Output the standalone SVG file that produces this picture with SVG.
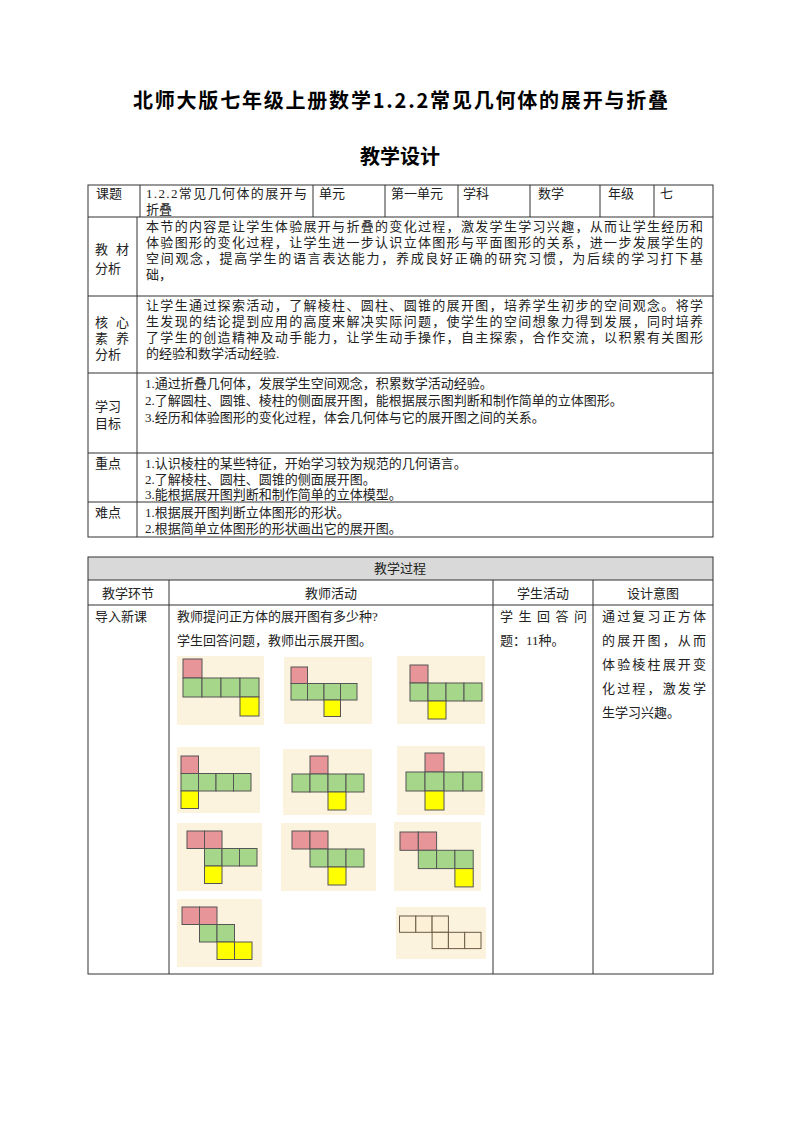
<svg xmlns="http://www.w3.org/2000/svg" width="800" height="1132" viewBox="0 0 800 1132">
<style>
text{font-family:"Liberation Serif","Noto Sans CJK SC",serif;font-size:13px;fill:#222}
.t{font-family:"Noto Sans CJK SC",sans-serif;font-size:20px;font-weight:bold;fill:#000}
.ln{stroke:#333;stroke-width:1;fill:none}
.bg{fill:#fcf3df}
.p{fill:#e8959a;stroke:#555;stroke-width:1}
.g{fill:#a6d68a;stroke:#555;stroke-width:1}
.y{fill:#ffff00;stroke:#555;stroke-width:1}
.o{fill:#fcf0d6;stroke:#6b5a45;stroke-width:1}
</style>
<rect width="800" height="1132" fill="#fff"/>
<g id="title">
<text class="t" x="133" y="108" textLength="535">北师大版七年级上册数学1.2.2常见几何体的展开与折叠</text>
<text class="t" x="400" y="164" text-anchor="middle">教学设计</text>
</g>
<g id="table1">
<rect class="ln" x="88" y="185" width="625" height="352"/>
<path class="ln" d="M88 217H713M88 296H713M88 373H713M88 453H713M88 502H713M140 185V217M313 185V217M385 185V217M458 185V217M530 185V217M600 185V217M654 185V217M137 217V537"/>
<text x="96" y="198">课题</text>
<text x="146" y="198" textLength="161">1.2.2常见几何体的展开与</text>
<text x="146" y="214">折叠</text>
<text x="319" y="198">单元</text>
<text x="391" y="198">第一单元</text>
<text x="463" y="198">学科</text>
<text x="538" y="198">数学</text>
<text x="608" y="198">年级</text>
<text x="660" y="198">七</text>
<text x="95" y="254" textLength="34">教 材</text>
<text x="95" y="273">分析</text>
<text x="146" y="231" textLength="557">本节的内容是让学生体验展开与折叠的变化过程，激发学生学习兴趣，从而让学生经历和</text>
<text x="146" y="247" textLength="557">体验图形的变化过程，让学生进一步认识立体图形与平面图形的关系，进一步发展学生的</text>
<text x="146" y="263" textLength="557">空间观念，提高学生的语言表达能力，养成良好正确的研究习惯，为后续的学习打下基</text>
<text x="146" y="279">础，</text>
<text x="95" y="327" textLength="34">核 心</text>
<text x="95" y="343" textLength="34">素 养</text>
<text x="95" y="359">分析</text>
<text x="146" y="310" textLength="557">让学生通过探索活动，了解棱柱、圆柱、圆锥的展开图，培养学生初步的空间观念。将学</text>
<text x="146" y="326" textLength="557">生发现的结论提到应用的高度来解决实际问题，使学生的空间想象力得到发展，同时培养</text>
<text x="146" y="342" textLength="557">了学生的创造精神及动手能力，让学生动手操作，自主探索，合作交流，以积累有关图形</text>
<text x="146" y="358">的经验和数学活动经验.</text>
<text x="95" y="411">学习</text>
<text x="95" y="428">目标</text>
<text x="145" y="388">1.通过折叠几何体，发展学生空间观念，积累数学活动经验。</text>
<text x="145" y="405">2.了解圆柱、圆锥、棱柱的侧面展开图，能根据展示图判断和制作简单的立体图形。</text>
<text x="145" y="422">3.经历和体验图形的变化过程，体会几何体与它的展开图之间的关系。</text>
<text x="95" y="468">重点</text>
<text x="145" y="468">1.认识棱柱的某些特征，开始学习较为规范的几何语言。</text>
<text x="145" y="484">2.了解棱柱、圆柱、圆锥的侧面展开图。</text>
<text x="145" y="499">3.能根据展开图判断和制作简单的立体模型。</text>
<text x="95" y="517">难点</text>
<text x="145" y="517">1.根据展开图判断立体图形的形状。</text>
<text x="145" y="533">2.根据简单立体图形的形状画出它的展开图。</text>
</g>
<g id="table2">
<rect x="88" y="557" width="625" height="23" fill="#d9d9d9"/>
<rect class="ln" x="88" y="557" width="625" height="417"/>
<path class="ln" d="M88 580H713M88 605H713M169 580V974M493 580V974M593 580V974"/>
<text x="400" y="573" text-anchor="middle">教学过程</text>
<text x="128" y="598" text-anchor="middle">教学环节</text>
<text x="331" y="598" text-anchor="middle">教师活动</text>
<text x="543" y="598" text-anchor="middle">学生活动</text>
<text x="653" y="598" text-anchor="middle">设计意图</text>
<text x="95" y="621">导入新课</text>
<text x="177" y="621">教师提问正方体的展开图有多少种?</text>
<text x="177" y="645">学生回答问题，教师出示展开图。</text>
<text x="500" y="621" textLength="87">学生回答问</text>
<text x="500" y="645">题：11种。</text>
<text x="602" y="621" textLength="104">通过复习正方体</text>
<text x="602" y="645" textLength="104">的展开图，从而</text>
<text x="602" y="669" textLength="104">体验棱柱展开变</text>
<text x="602" y="693" textLength="104">化过程，激发学</text>
<text x="602" y="717">生学习兴趣。</text>
</g>
<g id="net1"><rect class="bg" x="177" y="656" width="87" height="69"/>
<rect class="p" x="183" y="659" width="19" height="19"/>
<rect class="g" x="183" y="678" width="19" height="19"/><rect class="g" x="202" y="678" width="19" height="19"/><rect class="g" x="221" y="678" width="19" height="19"/><rect class="g" x="240" y="678" width="19" height="19"/>
<rect class="y" x="240" y="697" width="19" height="19"/></g>
<g id="net2"><rect class="bg" x="284" y="657" width="88" height="67"/>
<rect class="p" x="291" y="667" width="16.5" height="16.5"/>
<rect class="g" x="291" y="683.5" width="16.5" height="16.5"/><rect class="g" x="307.5" y="683.5" width="16.5" height="16.5"/><rect class="g" x="324" y="683.5" width="16.5" height="16.5"/><rect class="g" x="340.5" y="683.5" width="16.5" height="16.5"/>
<rect class="y" x="324" y="700" width="16.5" height="16.5"/></g>
<g id="net3"><rect class="bg" x="397" y="656" width="88" height="68"/>
<rect class="p" x="410" y="665" width="18" height="18"/>
<rect class="g" x="410" y="683" width="18" height="18"/><rect class="g" x="428" y="683" width="18" height="18"/><rect class="g" x="446" y="683" width="18" height="18"/><rect class="g" x="464" y="683" width="18" height="18"/>
<rect class="y" x="428" y="701" width="18" height="18"/></g>
<g id="net4"><rect class="bg" x="177" y="747" width="83" height="66"/>
<rect class="p" x="181" y="756" width="17.5" height="17.5"/>
<rect class="g" x="181" y="773.5" width="17.5" height="17.5"/><rect class="g" x="198.5" y="773.5" width="17.5" height="17.5"/><rect class="g" x="216" y="773.5" width="17.5" height="17.5"/><rect class="g" x="233.5" y="773.5" width="17.5" height="17.5"/>
<rect class="y" x="181" y="791" width="17.5" height="17.5"/></g>
<g id="net5"><rect class="bg" x="283" y="749" width="89" height="66"/>
<rect class="p" x="310" y="756" width="18" height="18"/>
<rect class="g" x="292" y="774" width="18" height="18"/><rect class="g" x="310" y="774" width="18" height="18"/><rect class="g" x="328" y="774" width="18" height="18"/><rect class="g" x="346" y="774" width="18" height="18"/>
<rect class="y" x="328" y="792" width="18" height="18"/></g>
<g id="net6"><rect class="bg" x="397" y="746" width="88" height="69"/>
<rect class="p" x="425" y="753" width="19" height="19"/>
<rect class="g" x="406" y="772" width="19" height="19"/><rect class="g" x="425" y="772" width="19" height="19"/><rect class="g" x="444" y="772" width="19" height="19"/><rect class="g" x="463" y="772" width="19" height="19"/>
<rect class="y" x="425" y="791" width="19" height="19"/></g>
<g id="net7"><rect class="bg" x="177" y="823" width="85" height="68"/>
<rect class="p" x="187" y="831" width="17.5" height="17.5"/><rect class="p" x="204.5" y="831" width="17.5" height="17.5"/>
<rect class="g" x="204.5" y="848.5" width="17.5" height="17.5"/><rect class="g" x="222" y="848.5" width="17.5" height="17.5"/><rect class="g" x="239.5" y="848.5" width="17.5" height="17.5"/>
<rect class="y" x="204.5" y="866" width="17.5" height="17.5"/></g>
<g id="net8"><rect class="bg" x="281" y="823" width="95" height="68"/>
<rect class="p" x="292" y="831" width="18" height="18"/><rect class="p" x="310" y="831" width="18" height="18"/>
<rect class="g" x="310" y="849" width="18" height="18"/><rect class="g" x="328" y="849" width="18" height="18"/><rect class="g" x="346" y="849" width="18" height="18"/>
<rect class="y" x="328" y="867" width="18" height="18"/></g>
<g id="net9"><rect class="bg" x="394" y="822" width="87" height="69"/>
<rect class="p" x="400" y="832" width="18.3" height="18.3"/><rect class="p" x="418.3" y="832" width="18.3" height="18.3"/>
<rect class="g" x="418.3" y="850.3" width="18.3" height="18.3"/><rect class="g" x="436.6" y="850.3" width="18.3" height="18.3"/><rect class="g" x="454.9" y="850.3" width="18.3" height="18.3"/>
<rect class="y" x="454.9" y="868.6" width="18.3" height="18.3"/></g>
<g id="net10"><rect class="bg" x="177" y="899" width="85" height="68"/>
<rect class="p" x="182" y="907" width="17.5" height="17.5"/><rect class="p" x="199.5" y="907" width="17.5" height="17.5"/>
<rect class="g" x="199.5" y="924.5" width="17.5" height="17.5"/><rect class="g" x="217" y="924.5" width="17.5" height="17.5"/>
<rect class="y" x="217" y="942" width="17.5" height="17.5"/><rect class="y" x="234.5" y="942" width="17.5" height="17.5"/></g>
<g id="net11"><rect class="bg" x="396" y="907" width="90" height="52"/>
<rect class="o" x="399.5" y="916" width="16.3" height="16.3"/><rect class="o" x="415.8" y="916" width="16.3" height="16.3"/><rect class="o" x="432.1" y="916" width="16.3" height="16.3"/>
<rect class="o" x="432.1" y="932.3" width="16.3" height="16.3"/><rect class="o" x="448.4" y="932.3" width="16.3" height="16.3"/><rect class="o" x="464.7" y="932.3" width="16.3" height="16.3"/></g>
</svg>
